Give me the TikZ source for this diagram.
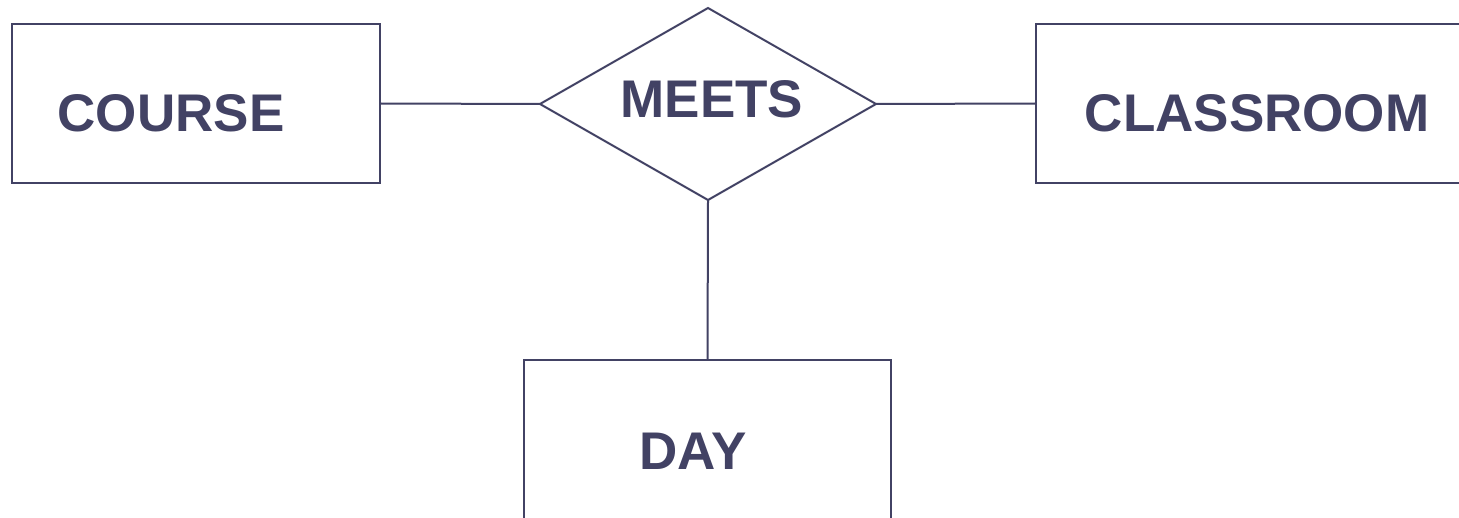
\documentclass[tikz,border=0pt]{standalone}
\usepackage{fontspec}
\setmainfont{Liberation Sans}
\usetikzlibrary{shapes.geometric}
\definecolor{ink}{HTML}{424264}
\begin{document}
\begin{tikzpicture}[x=1pt,y=-1pt,
  entity/.style={draw=ink, line width=2pt, rectangle, inner sep=0pt, outer sep=0pt},
  relation/.style={draw=ink, line width=2pt, diamond, inner sep=0pt, outer sep=0pt,
    minimum width=336pt, minimum height=192pt},
  caption/.style={text=ink, font=\fontsize{53}{60}\selectfont\bfseries, inner sep=0pt},
  link/.style={draw=ink, line width=2pt}]
  \useasboundingbox (0,0) rectangle (1459,518);
  \clip (0,0) rectangle (1459,518);
  % entities
  \node[entity, minimum width=368pt, minimum height=159pt] (course) at (196,103.5) {};
  \node[entity, minimum width=460pt, minimum height=159pt] (classroom) at (1266,103.5) {};
  \node[entity, minimum width=367pt, minimum height=220pt] (day) at (707.5,470) {};
  % relationship
  \node[relation] (meets) at (708,104) {};
  % labels
  \node[caption] (courseLbl) at (171,113) {COURSE};
  \node[caption] (classroomLbl) at (1257,113) {CLASSROOM};
  \node[caption] (dayLbl) at (693,451) {DAY};
  \node[caption] (meetsLbl) at (712,99) {MEETS};
  % connectors
  \draw[link] (course.east) -- (meets.west);
  \draw[link] (meets.east) -- (classroom.west);
  \draw[link] (meets.south) -- (day.north);
\end{tikzpicture}
\end{document}
